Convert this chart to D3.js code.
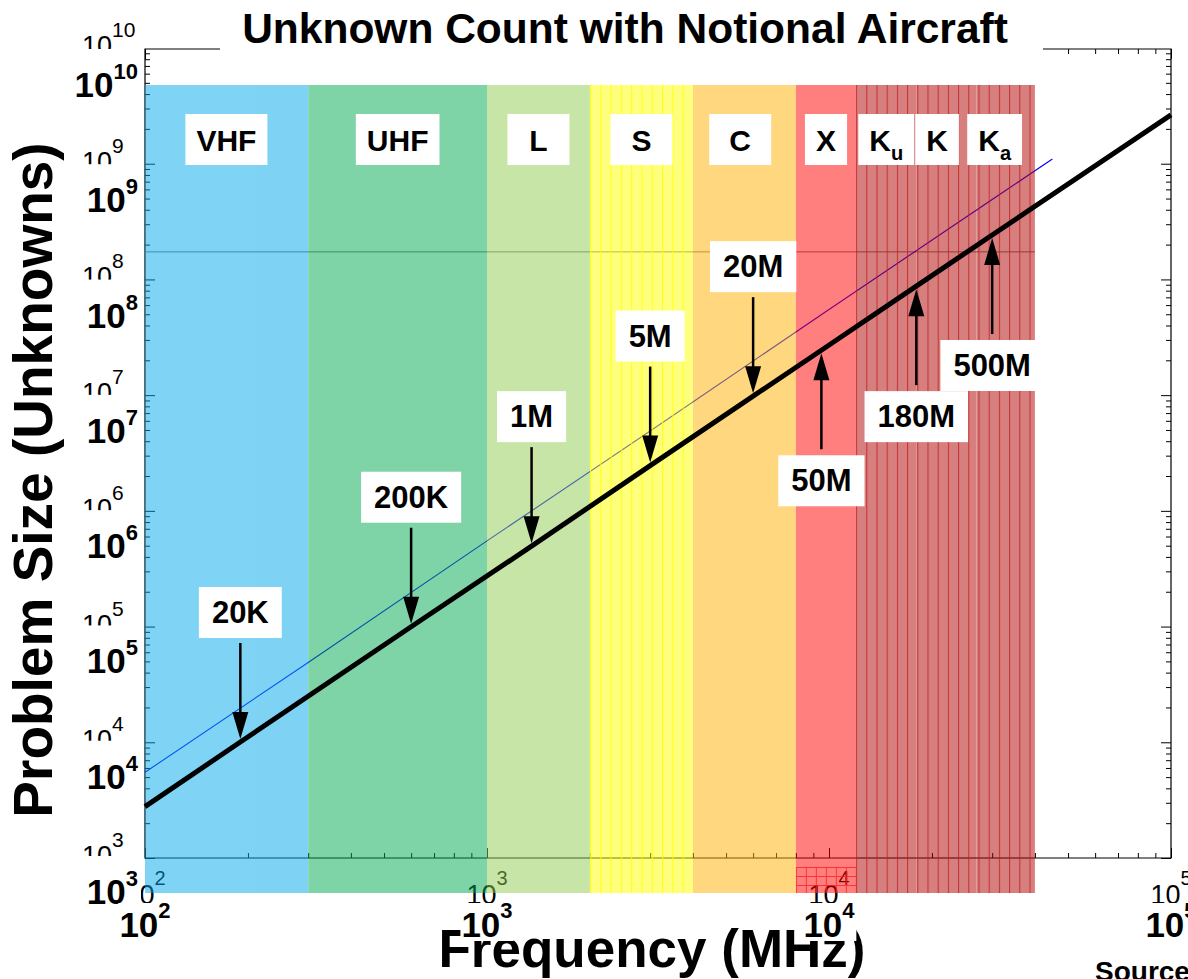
<!DOCTYPE html>
<html><head><meta charset="utf-8">
<script src="https://cdn.jsdelivr.net/npm/d3@7"></script>
<style>
html,body{margin:0;padding:0;background:#fff;}
svg{display:block;font-family:"Liberation Sans",Arial,Helvetica,sans-serif;}
</style>
</head><body>
<svg id="c" width="1188" height="979"></svg>
<script>
// ---------------- data ----------------
const titleText = "Unknown Count with Notional Aircraft";
const xTitle = "Frequency (MHz)";
const yTitle = "Problem Size (Unknowns)";
const sourceText = "Source";

const bandMain = ["VHF","UHF","L","S","C","X","K","K","K"];
const bandSub  = ["","","","","","","u","","a"];
const bandLow  = [100,300,1000,2000,4000,8000,12000,18000,27000];
const bandHigh = [300,1000,2000,4000,8000,12000,18000,27000,40000];
const bandLabelAt = [173,548,1414,2828,5500,9800,14700,20700,30500];
const bandColors = ["#00a9eb","#00a951","#91cd51","#ffff00","#ffb100","#ff0000","#b00000","#b00000","#b00000"];

// thick black curve (bold axes)
const freqBold = [100,190,600,1350,3000,6000,9500,18000,30000,100000];
const unkBold  = [5500,2e4,2e5,1e6,5e6,2e7,5e7,1.8e8,5e8,5.5e9];
// thin blue curve (thin axes)
const freqThin = [100,300,1000,3000,10000,30000,45000];
const unkThin  = [5500,4.9e4,5.5e5,4.9e6,5.5e7,4.9e8,1.1e9];
const refLineN = 1.73e8;

// annotations
const annLabels = ["20K","200K","1M","5M","20M","50M","180M","500M"];
const annFreq   = [190,600,1350,3000,6000,9500,18000,30000];
const annN      = [2e4,2e5,1e6,5e6,2e7,5e7,1.8e8,5e8];
const annDir    = ["down","down","down","down","down","up","up","up"];

// tick exponents
const xTickExp = [2,3,4,5];
const yTickExp = [3,4,5,6,7,8,9,10];

(function(){
// ---------------- scales ----------------
const svg = d3.select("#c");
const defs = svg.append("defs");
const xThin = d3.scaleLog().domain([100,1e5]).range([145,1171]);
const yThin = d3.scaleLog().domain([1e3,1e10]).range([858,48]);
const xBold = d3.scaleLog().domain([100,1e5]).range([145,1171]);
const yBold = d3.scaleLog().domain([1e3,1e10]).range([892,85]);

const majorX = xTickExp.map(e=>Math.pow(10,e));
const majorY = yTickExp.map(e=>Math.pow(10,e));
const minorX = [], minorY = [];
majorX.slice(0,-1).forEach(d=>{for(let k=2;k<10;k++) minorX.push(d*k);});
majorY.slice(0,-1).forEach(d=>{for(let k=2;k<10;k++) minorY.push(d*k);});

// ---------------- thin plot (underneath) ----------------
const thin = svg.append("g");
function axisG(gen, tf){
  const g = thin.append("g").attr("transform", tf).call(gen);
  g.select(".domain").remove();
  g.selectAll("line").attr("stroke","#000").attr("stroke-width",1);
  return g;
}
[[minorX,-5],[majorX,-10]].forEach(([v,s])=>{
  axisG(d3.axisBottom(xThin).tickValues(v).tickSize(s).tickFormat(""),"translate(0,858)");
  axisG(d3.axisTop(xThin).tickValues(v).tickSize(s).tickFormat(""),"translate(0,49)");
});
[[minorY,-5],[majorY,-10]].forEach(([v,s])=>{
  axisG(d3.axisLeft(yThin).tickValues(v.filter(d=>yThin(d)>=49)).tickSize(s).tickFormat(""),"translate(145,0)");
  axisG(d3.axisRight(yThin).tickValues(v.filter(d=>yThin(d)>=49)).tickSize(s).tickFormat(""),"translate(1171,0)");
});
thin.append("path").attr("d","M145,49V858H1171V49Z").attr("fill","none").attr("stroke","#000").attr("stroke-width",1.2);

// thin tick labels
yTickExp.forEach(e=>{
  const ty = yThin(Math.pow(10,e));
  const id = "cy"+e;
  defs.append("clipPath").attr("id",id).append("rect").attr("x",0).attr("y",0).attr("width",145).attr("height",ty+1);
  const t = thin.append("text").attr("clip-path",`url(#${id})`)
    .attr("x",82).attr("y",ty+7).attr("font-size",27).attr("fill","#000");
  t.append("tspan").text("10");
  t.append("tspan").attr("dy",-18).attr("font-size",21).text(e);
});
defs.append("clipPath").attr("id","cx").append("rect").attr("x",0).attr("y",860).attr("width",1188).attr("height",43);
xTickExp.forEach(e=>{
  const tx = xThin(Math.pow(10,e));
  const t = thin.append("text").attr("clip-path","url(#cx)")
    .attr("x",tx).attr("y",904).attr("text-anchor","middle").attr("font-size",27).attr("fill","#000");
  t.append("tspan").text("10");
  t.append("tspan").attr("dy",-19).attr("font-size",20).text(e);
});

thin.append("line").attr("x1",xThin(100)).attr("x2",xThin(40000))
  .attr("y1",yThin(refLineN)).attr("y2",yThin(refLineN)).attr("stroke","#777").attr("stroke-width",1);
thin.append("path").datum(freqThin.map((f,i)=>[f,unkThin[i]]))
  .attr("d",d3.line().x(d=>xThin(d[0])).y(d=>yThin(d[1])))
  .attr("fill","none").attr("stroke","#0000ff").attr("stroke-width",1.1);

// ---------------- bands ----------------
const pS = defs.append("pattern").attr("id","hatchS").attr("patternUnits","userSpaceOnUse")
  .attr("x",xBold(2000)).attr("y",0).attr("width",10.3).attr("height",12);
pS.append("line").attr("x1",0.5).attr("x2",0.5).attr("y1",0).attr("y2",12).attr("stroke","#ffff00").attr("stroke-width",1.2);
const pK = defs.append("pattern").attr("id","hatchK").attr("patternUnits","userSpaceOnUse")
  .attr("x",xBold(12000)).attr("y",0).attr("width",10.2).attr("height",12);
pK.append("line").attr("x1",0.5).attr("x2",0.5).attr("y1",0).attr("y2",12).attr("stroke","#c01818").attr("stroke-width",1.1).attr("opacity",0.75);
const pX = defs.append("pattern").attr("id","gridX").attr("patternUnits","userSpaceOnUse")
  .attr("x",xBold(8000)).attr("y",867).attr("width",10).attr("height",9);
pX.append("path").attr("d","M0.5,0V9M0,0.5H10").attr("stroke","#ff2020").attr("stroke-width",1);

const bands = svg.append("g");
bands.append("g").attr("opacity",0.5).selectAll("rect").data(bandLow).join("rect")
  .attr("x",(d,i)=>xBold(d)).attr("width",(d,i)=>xBold(bandHigh[i])-xBold(d))
  .attr("y",yBold(1e10)).attr("height",893-yBold(1e10))
  .attr("fill",(d,i)=>bandColors[i]);
bands.append("rect").attr("x",xBold(2000)).attr("width",xBold(4000)-xBold(2000))
  .attr("y",yBold(1e10)).attr("height",893-yBold(1e10)).attr("fill","url(#hatchS)").attr("opacity",0.8);
bands.append("rect").attr("x",xBold(12000)).attr("width",xBold(40000)-xBold(12000))
  .attr("y",yBold(1e10)).attr("height",893-yBold(1e10)).attr("fill","url(#hatchK)");
bands.append("rect").attr("x",xBold(8000)).attr("width",xBold(12000)-xBold(8000))
  .attr("y",867).attr("height",893-867).attr("fill","url(#gridX)").attr("opacity",0.8);

bandMain.forEach((m,i)=>{
  const cx = xBold(bandLabelAt[i]);
  const g = bands.append("g");
  const r = g.append("rect").attr("fill","#fff");
  const t = g.append("text").attr("x",cx).attr("y",150.5).attr("text-anchor","middle")
    .attr("font-size",30).attr("font-weight","bold").attr("fill","#000");
  t.append("tspan").text(m);
  if(bandSub[i]) t.append("tspan").attr("dy",9).attr("font-size",20).text(bandSub[i]);
  const tw = t.node().getComputedTextLength();
  const bw = xBold(bandHigh[i])-xBold(bandLow[i]);
  const w = Math.max(tw+22, Math.min(62, bw*0.7));
  r.attr("x",cx-w/2).attr("width",w).attr("y",114).attr("height",51);
});

// ---------------- thick curve ----------------
svg.append("path").datum(freqBold.map((f,i)=>[f,unkBold[i]]))
  .attr("d",d3.line().x(d=>xBold(d[0])).y(d=>yBold(d[1])))
  .attr("fill","none").attr("stroke","#000").attr("stroke-width",5);

// ---------------- annotations ----------------
annLabels.forEach((lab,i)=>{
  const ax = xBold(annFreq[i]), py = yBold(annN[i]);
  const down = annDir[i]==="down";
  const cy = down ? py-130 : py+130;
  const g = svg.append("g");
  const r = g.append("rect").attr("fill","#fff");
  const t = g.append("text").attr("x",ax).attr("y",cy+11).attr("text-anchor","middle")
    .attr("font-size",31).attr("font-weight","bold").attr("fill","#000").text(lab);
  const w = t.node().getComputedTextLength()+26;
  r.attr("x",ax-w/2).attr("width",w).attr("y",cy-25).attr("height",51);
  const tip = down ? py-3 : py+3;
  const tail = down ? cy+31 : cy-31;
  const dir = down ? 1 : -1;
  const base = tip - dir*27;
  g.append("line").attr("x1",ax).attr("x2",ax).attr("y1",tail).attr("y2",base+dir*2)
    .attr("stroke","#000").attr("stroke-width",2.5);
  g.append("path").attr("d",`M${ax},${tip}L${ax-8},${base}L${ax+8},${base}Z`).attr("fill","#000");
});

// ---------------- bold labels & titles ----------------
const topG = svg.append("g");
topG.append("text").attr("x",652).attr("y",967).attr("text-anchor","middle")
  .attr("font-size",53).attr("font-weight","bold").attr("fill","#000").text(xTitle);

yTickExp.forEach(e=>{
  const ty = yBold(Math.pow(10,e));
  const g = topG.append("g");
  const r = g.append("rect").attr("fill","#fff");
  const t = g.append("text").attr("x",138).attr("y",ty+12).attr("text-anchor","end")
    .attr("font-size",35).attr("font-weight","bold").attr("fill","#000");
  t.append("tspan").text("10");
  t.append("tspan").attr("dy",-18).attr("font-size",22).text(e);
  const bb = t.node().getBBox();
  r.attr("x",bb.x-2).attr("y",ty-36).attr("width",bb.width+5).attr("height",50);
});
xTickExp.forEach(e=>{
  const tx = xBold(Math.pow(10,e));
  const g = topG.append("g");
  const r = g.append("rect").attr("fill","#fff");
  const t = g.append("text").attr("x",tx).attr("y",937).attr("text-anchor","middle")
    .attr("font-size",35).attr("font-weight","bold").attr("fill","#000");
  t.append("tspan").text("10");
  t.append("tspan").attr("dy",-19).attr("font-size",22).text(e);
  const bb = t.node().getBBox();
  r.attr("x",bb.x-1).attr("y",903).attr("width",bb.width+2).attr("height",38);
});

topG.append("text").attr("transform","translate(52,480) rotate(-90)").attr("text-anchor","middle")
  .attr("font-size",55).attr("font-weight","bold").attr("fill","#000").text(yTitle);

topG.append("rect").attr("x",220).attr("y",0).attr("width",823).attr("height",62).attr("fill","#fff");
topG.append("text").attr("x",625).attr("y",43).attr("text-anchor","middle")
  .attr("font-size",42.5).attr("font-weight","bold").attr("fill","#000").text(titleText);

topG.append("text").attr("x",1095).attr("y",981)
  .attr("font-size",28).attr("font-weight","bold").attr("fill","#000").text(sourceText);
})();
</script>
</body></html>
